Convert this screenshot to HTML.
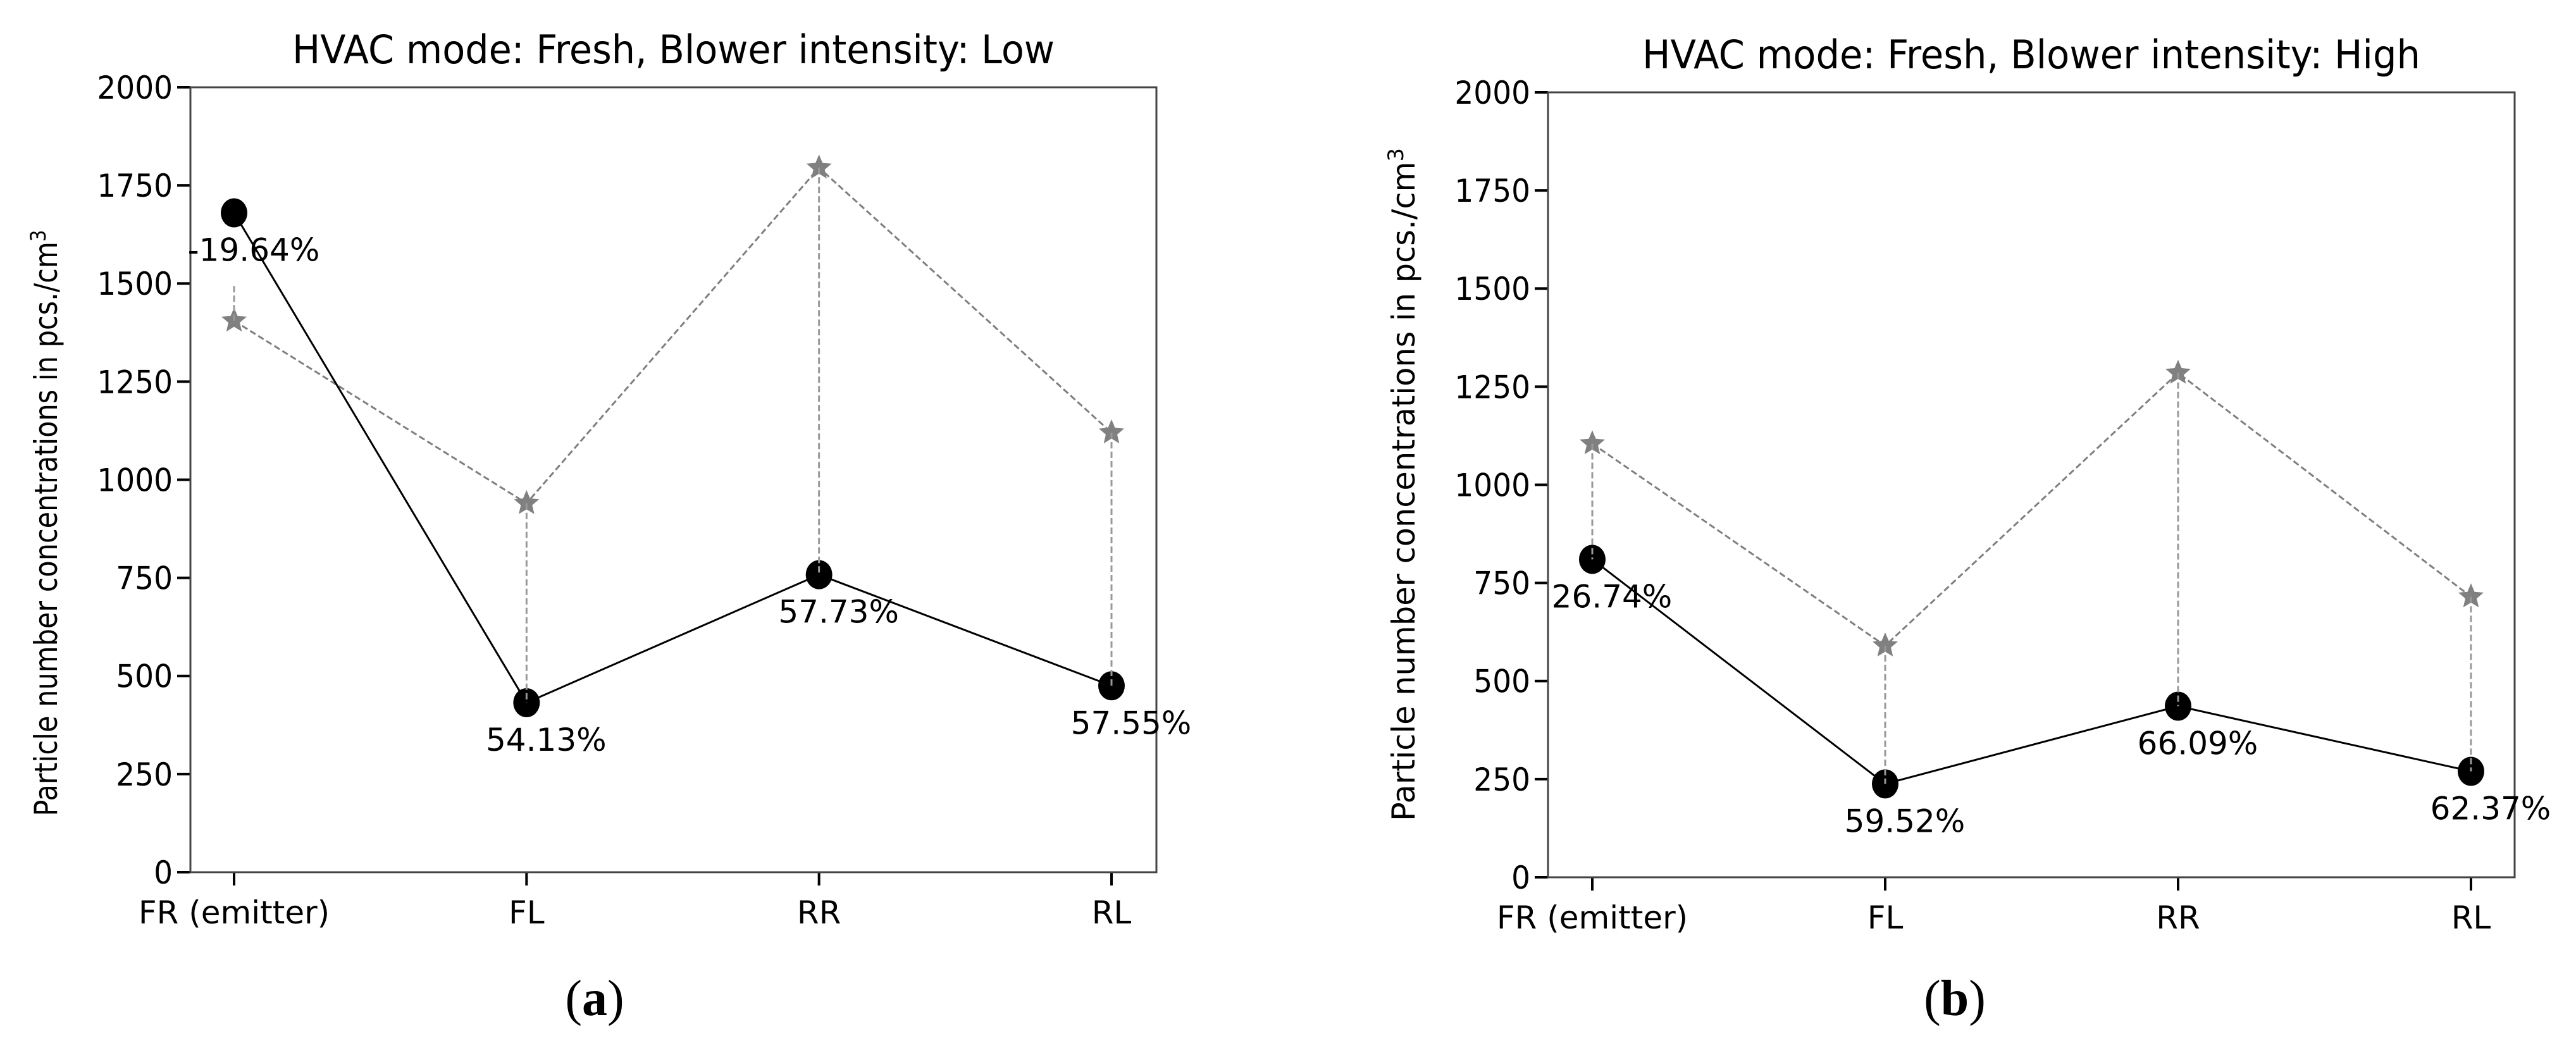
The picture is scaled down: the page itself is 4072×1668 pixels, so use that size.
<!DOCTYPE html>
<html><head><meta charset="utf-8"><style>
html,body{margin:0;padding:0;background:#fff;}
svg{display:block;font-family:"DejaVu Sans","Liberation Sans",sans-serif;}
</style></head><body>
<svg id="fig" width="4072" height="1668" viewBox="0 0 4072 1668" xmlns="http://www.w3.org/2000/svg"></svg>
<script>
const categories = ["FR (emitter)", "FL", "RR", "RL"];
const yTicks = [0, 250, 500, 750, 1000, 1250, 1500, 1750, 2000];
const lowBaseline = [1405, 940, 1795, 1120];
const lowMeasured = [1680, 432, 758, 475];
const lowVEnd = [1500, 432, 758, 475];
const lowLabels = ["-19.64%", "54.13%", "57.73%", "57.55%"];
const highBaseline = [1105, 590, 1285, 715];
const highMeasured = [810, 238, 436, 270];
const highVEnd = [810, 238, 436, 270];
const highLabels = ["26.74%", "59.52%", "66.09%", "62.37%"];

const NS = "http://www.w3.org/2000/svg";
const svg = document.getElementById("fig");
function mk(tag, attrs, parent) {
  const e = document.createElementNS(NS, tag);
  for (const k in attrs) e.setAttribute(k, attrs[k]);
  (parent || svg).appendChild(e);
  return e;
}
function starPts(cx, cy, R) {
  const r = R * 0.45; let p = [];
  for (let i = 0; i < 10; i++) {
    const a = -Math.PI / 2 + i * Math.PI / 5, rr = i % 2 ? r : R;
    p.push((cx + rr * Math.cos(a)).toFixed(1) + "," + (cy + rr * Math.sin(a)).toFixed(1));
  }
  return p.join(" ");
}

function panel(cfg) {
  const g = mk("g", {});
  
  
  const x0 = cfg.left, x1 = cfg.right, yT = cfg.top, yB = cfg.bottom;
  const xFirst = cfg.xFirst, xLast = cfg.xLast;
  const xs = i => xFirst + i * (xLast - xFirst) / (categories.length - 1);
  const ys = v => yB - v / 2000 * (yB - yT);

  const t = mk("text", {x: (x0 + x1) / 2, y: cfg.titleY, "font-size": 62, "text-anchor": "middle", fill: "#000", textLength: cfg.titleLen, lengthAdjust: "spacingAndGlyphs"}, g);
  t.textContent = cfg.title;
  
  

  const yl = mk("text", {x: 0, y: 0, "font-size": 50, "text-anchor": "middle", fill: "#000", transform: `translate(${cfg.ylabX},${cfg.ylabY}) rotate(-90)`, textLength: cfg.ylabLen, lengthAdjust: "spacingAndGlyphs"}, g);
  yl.innerHTML = 'Particle number concentrations in pcs./cm<tspan dy="-18" font-size="34">3</tspan>';
  
  

  yTicks.forEach(v => {
    const y = ys(v);
    const tk = mk("line", {x1: x0 - 21, x2: x0, y1: y, y2: y, stroke: "#000", "stroke-width": 4}, g);
    
    
    const tl = mk("text", {x: x0 - 28, y: y + 18, "font-size": 50, "text-anchor": "end", fill: "#000", transform: `translate(${x0-28},${y}) scale(0.94,1) translate(${-(x0-28)},${-y})`}, g);
    tl.textContent = v;
    
    
  });
  categories.forEach((c, i) => {
    const x = xs(i);
    const tk = mk("line", {x1: x, x2: x, y1: yB, y2: yB + 21, stroke: "#000", "stroke-width": 4}, g);
    
    
    const tl = mk("text", {x: x, y: cfg.xlabY, "font-size": 50, "text-anchor": "middle", fill: "#000"}, g);
    tl.textContent = c;
    
    
  });

  const bp = cfg.base.map((v, i) => xs(i) + "," + ys(v)).join(" ");
  const bl = mk("polyline", {points: bp, fill: "none", stroke: "#808080", "stroke-width": 3, "stroke-dasharray": "10,5"}, g);
  
  
  cfg.base.forEach((v, i) => {
    const s = mk("polygon", {points: starPts(xs(i), ys(v), 21), fill: "#808080"}, g);
    
    
  });
  const mp = cfg.meas.map((v, i) => xs(i) + "," + ys(v)).join(" ");
  const ml = mk("polyline", {points: mp, fill: "none", stroke: "#000", "stroke-width": 3}, g);
  
  
  cfg.meas.forEach((v, i) => {
    const c = mk("ellipse", {cx: xs(i), cy: ys(v), rx: 21, ry: 23, fill: "#000"}, g);
    
    
  });
  cfg.base.forEach((v, i) => {
    const l = mk("line", {x1: xs(i), x2: xs(i), y1: ys(v), y2: ys(cfg.vend[i]), stroke: "#999", "stroke-width": 3, "stroke-dasharray": "10,5"}, g);
    
    
  });
  const sp = mk("rect", {x: x0, y: yT, width: x1 - x0, height: yB - yT, fill: "none", stroke: "#444", "stroke-width": 3}, g);
  
  
  cfg.labels.forEach((s, i) => {
    const tl = mk("text", {x: xs(i) + 31, y: ys(cfg.meas[i]) + 76, "font-size": 50, "text-anchor": "middle", fill: "#000"}, g);
    tl.textContent = s;
    
    
  });
  const cap = mk("text", {x: cfg.capX, y: 1605, "font-size": 80, "text-anchor": "middle", fill: "#000", "font-family": "Liberation Serif, serif"}, g);
  cap.innerHTML = '(<tspan font-weight="bold">' + cfg.cap + '</tspan>)';
  
  
}

panel({name: "panel-low", left: 301, right: 1828, top: 138, bottom: 1379, xFirst: 370, xLast: 1757,
  title: "HVAC mode: Fresh, Blower intensity: Low", titleY: 100, titleLen: 1205,
  ylabX: 90, ylabY: 827, ylabLen: 927, xlabY: 1460,
  base: lowBaseline, meas: lowMeasured, vend: lowVEnd, labels: lowLabels, capX: 940, cap: "a"});
panel({name: "panel-high", left: 2447, right: 3975, top: 146, bottom: 1387, xFirst: 2517, xLast: 3906,
  title: "HVAC mode: Fresh, Blower intensity: High", titleY: 108, titleLen: 1230,
  ylabX: 2236, ylabY: 766, ylabLen: 1064, xlabY: 1468,
  base: highBaseline, meas: highMeasured, vend: highVEnd, labels: highLabels, capX: 3090, cap: "b"});
</script>
</body></html>
